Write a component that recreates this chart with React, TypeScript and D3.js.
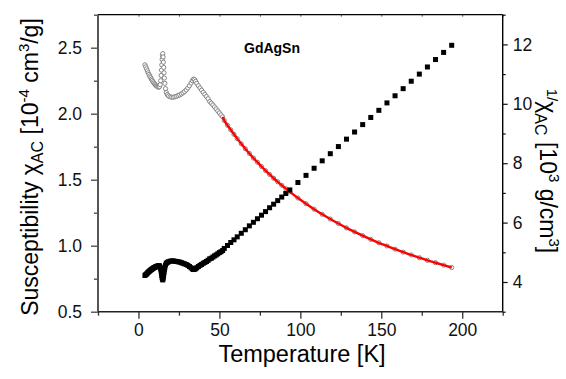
import * as d3 from 'd3';
import React, { useEffect, useRef } from 'react';

// temperature [K]
const temps = [
    4.0, 4.5, 5.0, 5.5, 6.0, 6.5, 7.0, 7.5, 8.0, 8.5, 9.0, 9.5, 10.0, 10.5, 11.0, 11.5, 12.0, 12.5,
    13.0, 13.4, 13.7, 14.0, 14.2, 14.4, 14.6, 14.8, 15.0, 15.2, 15.4, 15.6, 15.8, 16.0, 16.3, 16.7,
    17.2, 17.8, 18.5, 19.5, 20.5, 21.5, 22.5, 23.5, 24.5, 25.5, 26.5, 27.5, 28.5, 29.5, 30.5, 31.5,
    32.5, 33.3, 34.0, 34.7, 35.3, 36.0, 37.0, 38.0, 39.0, 40.0, 41.0, 42.0, 43.0, 44.0, 45.0, 46.0,
    47.0, 48.0, 49.0, 50.0, 51.0, 52.0, 53.0, 55.0, 57.0, 59.0, 61.0, 63.5, 66.0, 68.5, 71.0, 73.5,
    76.0, 78.5, 81.0, 83.5, 86.0, 88.5, 91.0, 93.5, 98.5, 103.5, 108.5, 113.5, 118.5, 123.5, 128.5,
    133.5, 138.5, 143.5, 148.5, 153.5, 158.5, 163.5, 168.5, 173.5, 178.5, 183.5, 188.5, 193.5,
];

// chi_AC [1e-4 cm3/g]
const chi = [
    2.370, 2.355, 2.340, 2.325, 2.310, 2.297, 2.285, 2.273, 2.262, 2.252, 2.242, 2.233, 2.225, 2.218, 2.212, 2.207, 2.203, 2.200,
    2.205, 2.220, 2.250, 2.290, 2.330, 2.370, 2.410, 2.440, 2.455, 2.430, 2.390, 2.350, 2.310, 2.270, 2.230, 2.190,
    2.160, 2.145, 2.135, 2.128, 2.125, 2.125, 2.128, 2.132, 2.137, 2.143, 2.150, 2.158, 2.168, 2.180, 2.195, 2.212,
    2.232, 2.250, 2.262, 2.258, 2.245, 2.230, 2.212, 2.195, 2.178, 2.162, 2.146, 2.130, 2.114, 2.092, 2.080, 2.066,
    2.051, 2.036, 2.021, 2.006, 1.991, 1.976, 1.949, 1.912, 1.878, 1.844, 1.811, 1.772, 1.735, 1.699, 1.664, 1.632,
    1.600, 1.569, 1.540, 1.511, 1.484, 1.458, 1.432, 1.408, 1.361, 1.318, 1.277, 1.238, 1.202, 1.168, 1.135,
    1.105, 1.076, 1.048, 1.022, 0.998, 0.974, 0.951, 0.930, 0.909, 0.889, 0.871, 0.853, 0.835,
];

// 1/chi_AC [1e3 g/cm3]
const invChi = [
    4.22, 4.25, 4.27, 4.30, 4.33, 4.35, 4.38, 4.40, 4.42, 4.44, 4.46, 4.48, 4.49, 4.51, 4.52, 4.53, 4.54, 4.55,
    4.54, 4.50, 4.44, 4.37, 4.29, 4.22, 4.15, 4.10, 4.07, 4.12, 4.18, 4.26, 4.33, 4.41, 4.48, 4.57,
    4.63, 4.66, 4.68, 4.70, 4.71, 4.71, 4.70, 4.69, 4.68, 4.67, 4.65, 4.63, 4.61, 4.59, 4.56, 4.52,
    4.48, 4.44, 4.42, 4.43, 4.45, 4.48, 4.52, 4.56, 4.59, 4.63, 4.66, 4.69, 4.73, 4.78, 4.80, 4.84,
    4.88, 4.91, 4.95, 4.99, 5.02, 5.06, 5.13, 5.23, 5.33, 5.42, 5.52, 5.64, 5.76, 5.89, 6.01, 6.13,
    6.25, 6.37, 6.50, 6.62, 6.74, 6.86, 6.98, 7.10, 7.35, 7.59, 7.83, 8.08, 8.32, 8.56, 8.81,
    9.05, 9.30, 9.54, 9.78, 10.03, 10.27, 10.51, 10.76, 11.00, 11.24, 11.49, 11.73, 11.97,
];

const fitFrom = 52; // Curie-Weiss fit range start [K]

const xTicks = [0, 50, 100, 150, 200];
const xMinor = [-25, 25, 75, 125, 175, 225];
const xTop = [-25, 0, 25, 50, 75, 100, 125, 150, 175, 200, 225];
const leftTicks = [0.5, 1.0, 1.5, 2.0, 2.5];
const leftMinor = [0.75, 1.25, 1.75, 2.25, 2.75];
const rightTicks = [4, 6, 8, 10, 12];
const rightMinor = [3, 5, 7, 9, 11, 13];

const W = 566, H = 379;
const L = 98, R = 502.7, T = 14.7, B = 311.7;

export default () => {
    const ref = useRef<any>();

    useEffect(() => {
        const svg = d3.select<any, any>(ref.current);
        svg.selectAll('g.plot').remove();
        const g = svg.append('g').attr('class', 'plot');

        const x = d3.scaleLinear().domain([-25, 225]).range([L, R]);
        const yL = d3.scaleLinear().domain([0.5, 2.75]).range([B, T]);
        const yR = d3.scaleLinear().domain([3, 13]).range([B, T]);

        const font = 'Liberation Sans, Arial, sans-serif';

        const styleAxis = (sel: any, color: string, width: number) => {
            sel.select('.domain').remove();
            sel.selectAll('line').attr('stroke', color).attr('stroke-width', width);
            sel.selectAll('text').attr('font-family', font).attr('font-size', 17.5).attr('fill', '#111');
        };

        // bottom
        g.append('g').attr('transform', `translate(0,${B})`)
            .call(d3.axisBottom(x).tickValues(xTicks).tickSize(7).tickPadding(5).tickFormat(d3.format('d')))
            .call((s: any) => styleAxis(s, '#333', 1.3));
        g.append('g').attr('transform', `translate(0,${B})`)
            .call(d3.axisBottom(x).tickValues(xMinor).tickSize(4).tickFormat(() => ''))
            .call((s: any) => styleAxis(s, '#333', 1.3));
        // top
        g.append('g').attr('transform', `translate(0,${T})`)
            .call(d3.axisBottom(x).tickValues(xTop).tickSize(2).tickFormat(() => ''))
            .call((s: any) => styleAxis(s, '#555', 1));
        // left
        g.append('g').attr('transform', `translate(${L},0)`)
            .call(d3.axisLeft(yL).tickValues(leftTicks).tickSize(7).tickPadding(9).tickFormat(d3.format('.1f')))
            .call((s: any) => styleAxis(s, '#444', 1.3));
        g.append('g').attr('transform', `translate(${L},0)`)
            .call(d3.axisLeft(yL).tickValues(leftMinor).tickSize(4).tickFormat(() => ''))
            .call((s: any) => styleAxis(s, '#444', 1.3));
        // right
        g.append('g').attr('transform', `translate(${R},0)`)
            .call(d3.axisRight(yR).tickValues(rightTicks).tickSize(5).tickPadding(5).tickFormat(d3.format('d')))
            .call((s: any) => styleAxis(s, '#111', 1.2));
        g.append('g').attr('transform', `translate(${R},0)`)
            .call(d3.axisRight(yR).tickValues(rightMinor).tickSize(3).tickFormat(() => ''))
            .call((s: any) => styleAxis(s, '#111', 1.2));

        // frame
        g.append('line').attr('x1', L).attr('x2', R).attr('y1', T).attr('y2', T).attr('stroke', '#000').attr('stroke-width', 1.2);
        g.append('line').attr('x1', R).attr('x2', R).attr('y1', T).attr('y2', B).attr('stroke', '#000').attr('stroke-width', 1.4);
        g.append('line').attr('x1', L).attr('x2', L).attr('y1', T).attr('y2', B).attr('stroke', '#555').attr('stroke-width', 2);
        g.append('line').attr('x1', L).attr('x2', R).attr('y1', B).attr('y2', B).attr('stroke', '#222').attr('stroke-width', 1.5);

        const pts = temps.map((t, i) => ({ t, c: chi[i], v: invChi[i] }));

        // chi: open circles
        g.append('g').selectAll('circle').data(pts).join('circle')
            .attr('cx', (d: any) => x(d.t))
            .attr('cy', (d: any) => yL(d.c))
            .attr('r', 2.1)
            .attr('fill', '#fff')
            .attr('stroke', '#7a7a7a')
            .attr('stroke-width', 0.9);

        // Curie-Weiss fit
        const line = d3.line<any>().x((d: any) => x(d.t)).y((d: any) => yL(d.c)).curve(d3.curveMonotoneX);
        g.append('path').datum(pts.filter(d => d.t >= fitFrom))
            .attr('d', line)
            .attr('fill', 'none')
            .attr('stroke', '#ff0000')
            .attr('stroke-width', 2.4);

        // 1/chi: filled squares
        const s = 5;
        g.append('g').selectAll('rect').data(pts).join('rect')
            .attr('x', (d: any) => x(d.t) - s / 2)
            .attr('y', (d: any) => yR(d.v) - s / 2)
            .attr('width', s)
            .attr('height', s)
            .attr('fill', '#000');
    });

    const font = 'Liberation Sans, Arial, sans-serif';

    return (
        <svg ref={ref} width={W} height={H} style={{ position: 'absolute', left: 0, top: 0, background: '#fff' }}>
            <text x={272} y={53} textAnchor="middle" fontFamily={font} fontWeight="bold" fontSize={14}>GdAgSn</text>
            <text x={302} y={362} textAnchor="middle" fontFamily={font} fontSize={23.5}>Temperature [K]</text>
            <text transform="translate(38,167) rotate(-90)" textAnchor="middle" fontFamily={font} fontSize={23}>
                Susceptibility χ<tspan fontSize={16} dy={5}>AC</tspan>
                <tspan dy={-5}> [10</tspan><tspan fontSize={15} dy={-9}>-4</tspan>
                <tspan dy={9}> cm</tspan><tspan fontSize={15} dy={-9}>3</tspan><tspan dy={9}>/g]</tspan>
            </text>
            <text transform="translate(540,171) rotate(90)" textAnchor="middle" fontFamily={font} fontSize={23}>
                <tspan fontSize={15} dy={-7}>1</tspan><tspan fontSize={15}>/</tspan>
                <tspan dy={7}>χ</tspan><tspan fontSize={16} dy={5}>AC</tspan>
                <tspan dy={-5}> [10</tspan><tspan fontSize={15} dy={-9}>3</tspan>
                <tspan dy={9}> g/cm</tspan><tspan fontSize={15} dy={-9}>3</tspan><tspan dy={9}>]</tspan>
            </text>
        </svg>
    );
};
